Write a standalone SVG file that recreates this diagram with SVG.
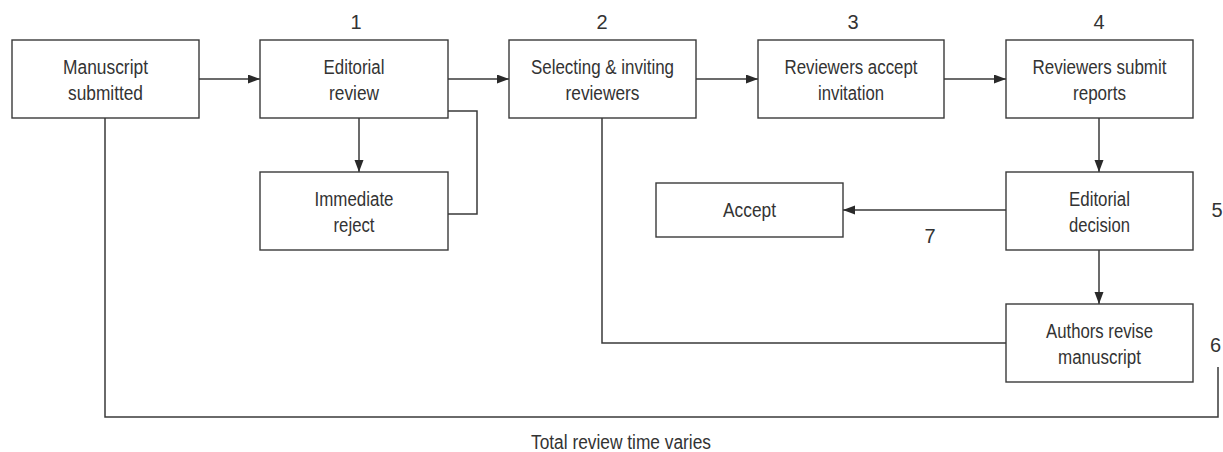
<svg xmlns="http://www.w3.org/2000/svg" width="1223" height="452" viewBox="0 0 1223 452">
<style>
.box{fill:#fff;stroke:#3a3a3a;stroke-width:1.4}
.t{font-family:"Liberation Sans",Arial,sans-serif;font-size:20px;fill:#333;text-anchor:middle}
.c{fill:none;stroke:#3a3a3a;stroke-width:1.5}
</style>
<defs>
<marker id="ah" markerUnits="userSpaceOnUse" markerWidth="13" markerHeight="10" refX="12" refY="4.5" orient="auto">
<path d="M0,0 L12,4.5 L0,9 z" fill="#2a2a2a"/>
</marker>
</defs>
<g id="connectors">
<line class="c" x1="199" y1="79" x2="260" y2="79" marker-end="url(#ah)"/>
<line class="c" x1="448" y1="79" x2="509" y2="79" marker-end="url(#ah)"/>
<line class="c" x1="696" y1="79" x2="758" y2="79" marker-end="url(#ah)"/>
<line class="c" x1="944" y1="79" x2="1006" y2="79" marker-end="url(#ah)"/>
<line class="c" x1="359" y1="118" x2="359" y2="172" marker-end="url(#ah)"/>
<line class="c" x1="1099" y1="118" x2="1099" y2="172" marker-end="url(#ah)"/>
<line class="c" x1="1006" y1="210" x2="843" y2="210" marker-end="url(#ah)"/>
<line class="c" x1="1099" y1="250" x2="1099" y2="304" marker-end="url(#ah)"/>
<polyline class="c" points="448,111 477,111 477,214 448,214"/>
<polyline class="c" points="602,118 602,343 1006,343"/>
<polyline class="c" points="105,118 105,417 1218,417 1218,367"/>
</g>
<g id="n-manuscript">
<rect class="box" x="12" y="40" width="187" height="78"/>
<text class="t" x="105.5" y="73.5" textLength="85" lengthAdjust="spacingAndGlyphs">Manuscript</text>
<text class="t" x="105.5" y="99.5" textLength="75" lengthAdjust="spacingAndGlyphs">submitted</text>
</g>
<g id="n-editorial-review">
<rect class="box" x="260" y="40" width="188" height="78"/>
<text class="t" x="354" y="73.5" textLength="61" lengthAdjust="spacingAndGlyphs">Editorial</text>
<text class="t" x="354" y="99.5" textLength="50" lengthAdjust="spacingAndGlyphs">review</text>
</g>
<g id="n-selecting">
<rect class="box" x="509" y="40" width="187" height="78"/>
<text class="t" x="602.5" y="73.5" textLength="143" lengthAdjust="spacingAndGlyphs">Selecting &amp; inviting</text>
<text class="t" x="602.5" y="99.5" textLength="74" lengthAdjust="spacingAndGlyphs">reviewers</text>
</g>
<g id="n-accept-invitation">
<rect class="box" x="758" y="40" width="186" height="78"/>
<text class="t" x="851" y="73.5" textLength="133" lengthAdjust="spacingAndGlyphs">Reviewers accept</text>
<text class="t" x="851" y="99.5" textLength="66" lengthAdjust="spacingAndGlyphs">invitation</text>
</g>
<g id="n-submit-reports">
<rect class="box" x="1006" y="40" width="187" height="78"/>
<text class="t" x="1099.5" y="73.5" textLength="134" lengthAdjust="spacingAndGlyphs">Reviewers submit</text>
<text class="t" x="1099.5" y="99.5" textLength="53" lengthAdjust="spacingAndGlyphs">reports</text>
</g>
<g id="n-immediate-reject">
<rect class="box" x="260" y="172" width="188" height="78"/>
<text class="t" x="354" y="205.5" textLength="79" lengthAdjust="spacingAndGlyphs">Immediate</text>
<text class="t" x="354" y="231.5" textLength="41" lengthAdjust="spacingAndGlyphs">reject</text>
</g>
<g id="n-accept">
<rect class="box" x="656" y="183" width="187" height="54"/>
<text class="t" x="749.5" y="217" textLength="53" lengthAdjust="spacingAndGlyphs">Accept</text>
</g>
<g id="n-editorial-decision">
<rect class="box" x="1006" y="172" width="187" height="78"/>
<text class="t" x="1099.5" y="205.5" textLength="61" lengthAdjust="spacingAndGlyphs">Editorial</text>
<text class="t" x="1099.5" y="231.5" textLength="61" lengthAdjust="spacingAndGlyphs">decision</text>
</g>
<g id="n-authors-revise">
<rect class="box" x="1006" y="304" width="187" height="78"/>
<text class="t" x="1099.5" y="337.5" textLength="107" lengthAdjust="spacingAndGlyphs">Authors revise</text>
<text class="t" x="1099.5" y="363.5" textLength="83" lengthAdjust="spacingAndGlyphs">manuscript</text>
</g>
<g id="labels">
<text class="t" x="356" y="29">1</text>
<text class="t" x="602" y="29">2</text>
<text class="t" x="853" y="29">3</text>
<text class="t" x="1099" y="29">4</text>
<text class="t" x="1217" y="216.5">5</text>
<text class="t" x="1215.5" y="352">6</text>
<text class="t" x="930" y="243">7</text>
<text class="t" x="621" y="449" textLength="180" lengthAdjust="spacingAndGlyphs">Total review time varies</text>
</g>
</svg>
